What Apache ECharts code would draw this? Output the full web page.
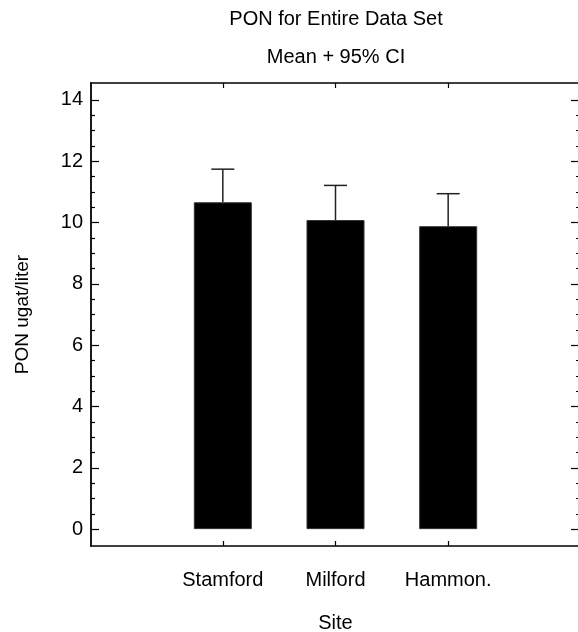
<!DOCTYPE html>
<html>
<head>
<meta charset="utf-8">
<script src="https://cdn.jsdelivr.net/npm/echarts@6/dist/echarts.min.js"></script>
<style>
  html, body { margin: 0; padding: 0; background: #fff; }
  #chart { width: 578px; height: 632px; }
</style>
</head>
<body>
<div id="chart"></div>
<script>
// Sites along the x axis (placed at positions 1, 2, 3)
const sites = ['Stamford', 'Milford', 'Hammon.'];
const sitePositions = [1, 2, 3];
// Mean PON (ugat/liter) and the upper end of the 95% confidence interval
const meanPON = [10.66, 10.08, 9.88];
const upperCI = [11.74, 11.21, 10.94];
// Y axis tick positions
const yMajorTicks = [0, 2, 4, 6, 8, 10, 12, 14];
const yMinorTicks = [0.5, 1, 1.5, 2.5, 3, 3.5, 4.5, 5, 5.5, 6.5, 7, 7.5,
                     8.5, 9, 9.5, 10.5, 11, 11.5, 12.5, 13, 13.5];

const FONT = '"Liberation Sans", Arial, Helvetica, sans-serif';
const INK = '#000';

const chart = echarts.init(document.getElementById('chart'), null, { renderer: 'canvas' });

const X_MIN = -0.17, X_MAX = 4.17;
const Y_MIN = -0.55, Y_MAX = 14.55;

function yAxisBase(position) {
  return {
    type: 'value',
    position: position,
    min: Y_MIN,
    max: Y_MAX,
    splitLine: { show: false },
    axisLine: { show: false, onZero: false },
    axisLabel: { show: false },
    axisTick: { show: false }
  };
}

function xAxisBase(position) {
  return {
    type: 'value',
    position: position,
    min: X_MIN,
    max: X_MAX,
    splitLine: { show: false },
    axisLine: { show: true, onZero: false, lineStyle: { color: INK, width: 1.5 } },
    axisLabel: { show: false },
    axisTick: {
      show: true, inside: true, length: 5,
      customValues: sitePositions,
      lineStyle: { color: INK, width: 1.2 }
    }
  };
}

const option = {
  backgroundColor: '#fff',
  animation: false,
  graphic: [
    {
      type: 'text', x: 336, y: 19,
      style: {
        text: 'PON for Entire Data Set', font: '20px ' + FONT,
        fill: INK, textAlign: 'center', textVerticalAlign: 'middle'
      }
    },
    {
      type: 'text', x: 336, y: 57,
      style: {
        text: 'Mean + 95% CI', font: '20px ' + FONT,
        fill: INK, textAlign: 'center', textVerticalAlign: 'middle'
      }
    }
  ],
  grid: {
    left: 91, top: 83, right: -2, bottom: 86,
    containLabel: false,
    outerBoundsMode: 'none'
  },
  xAxis: [
    Object.assign(xAxisBase('bottom'), {
      axisLabel: {
        show: true,
        customValues: sitePositions,
        formatter: (v) => sites[sitePositions.indexOf(v)],
        margin: 24,
        fontSize: 20,
        fontFamily: FONT,
        color: INK
      },
      name: 'Site',
      nameLocation: 'middle',
      nameGap: 67,
      nameTextStyle: { fontSize: 20, fontFamily: FONT, color: INK }
    }),
    xAxisBase('top')
  ],
  yAxis: [
    // left axis: line, major ticks, labels and title
    Object.assign(yAxisBase('left'), {
      axisLine: { show: true, onZero: false, lineStyle: { color: INK, width: 1.8 } },
      axisTick: {
        show: true, inside: true, length: 8,
        customValues: yMajorTicks,
        lineStyle: { color: INK, width: 1.2 }
      },
      axisLabel: {
        show: true, customValues: yMajorTicks, margin: 8,
        fontSize: 20, fontFamily: FONT, color: INK
      },
      name: 'PON ugat/liter',
      nameLocation: 'middle',
      nameGap: 59,
      nameTextStyle: { fontSize: 19, fontFamily: FONT, color: INK }
    }),
    // left axis: minor ticks
    Object.assign(yAxisBase('left'), {
      axisTick: {
        show: true, inside: true, length: 4,
        customValues: yMinorTicks,
        lineStyle: { color: INK, width: 1.2 }
      }
    }),
    // right axis: major ticks only, the frame edge runs off the page
    Object.assign(yAxisBase('right'), {
      axisTick: {
        show: true, inside: true, length: 9,
        customValues: yMajorTicks,
        lineStyle: { color: INK, width: 1.2 }
      }
    }),
    // right axis: minor ticks
    Object.assign(yAxisBase('right'), {
      axisTick: {
        show: true, inside: true, length: 4,
        customValues: yMinorTicks,
        lineStyle: { color: INK, width: 1.2 }
      }
    })
  ],
  series: [
    {
      name: 'Mean',
      type: 'bar',
      xAxisIndex: 0,
      yAxisIndex: 0,
      barWidth: 58,
      data: sitePositions.map((p, i) => [p, meanPON[i]]),
      itemStyle: { color: '#000', borderColor: '#333', borderWidth: 1 },
      z: 2
    },
    {
      name: '95% CI',
      type: 'custom',
      xAxisIndex: 0,
      yAxisIndex: 0,
      encode: { x: 0, y: [1, 2] },
      data: sitePositions.map((p, i) => [p, meanPON[i], upperCI[i]]),
      renderItem: (params, api) => {
        const x = api.value(0);
        const base = api.coord([x, api.value(1)]);
        const top = api.coord([x, api.value(2)]);
        const halfCap = 11.5;
        const style = { stroke: '#222', lineWidth: 1.5 };
        return {
          type: 'group',
          children: [
            { type: 'line', shape: { x1: base[0], y1: base[1], x2: top[0], y2: top[1] }, style: style },
            { type: 'line', shape: { x1: top[0] - halfCap, y1: top[1], x2: top[0] + halfCap, y2: top[1] }, style: style }
          ]
        };
      },
      z: 3
    }
  ]
};

chart.setOption(option);
</script>
</body>
</html>
